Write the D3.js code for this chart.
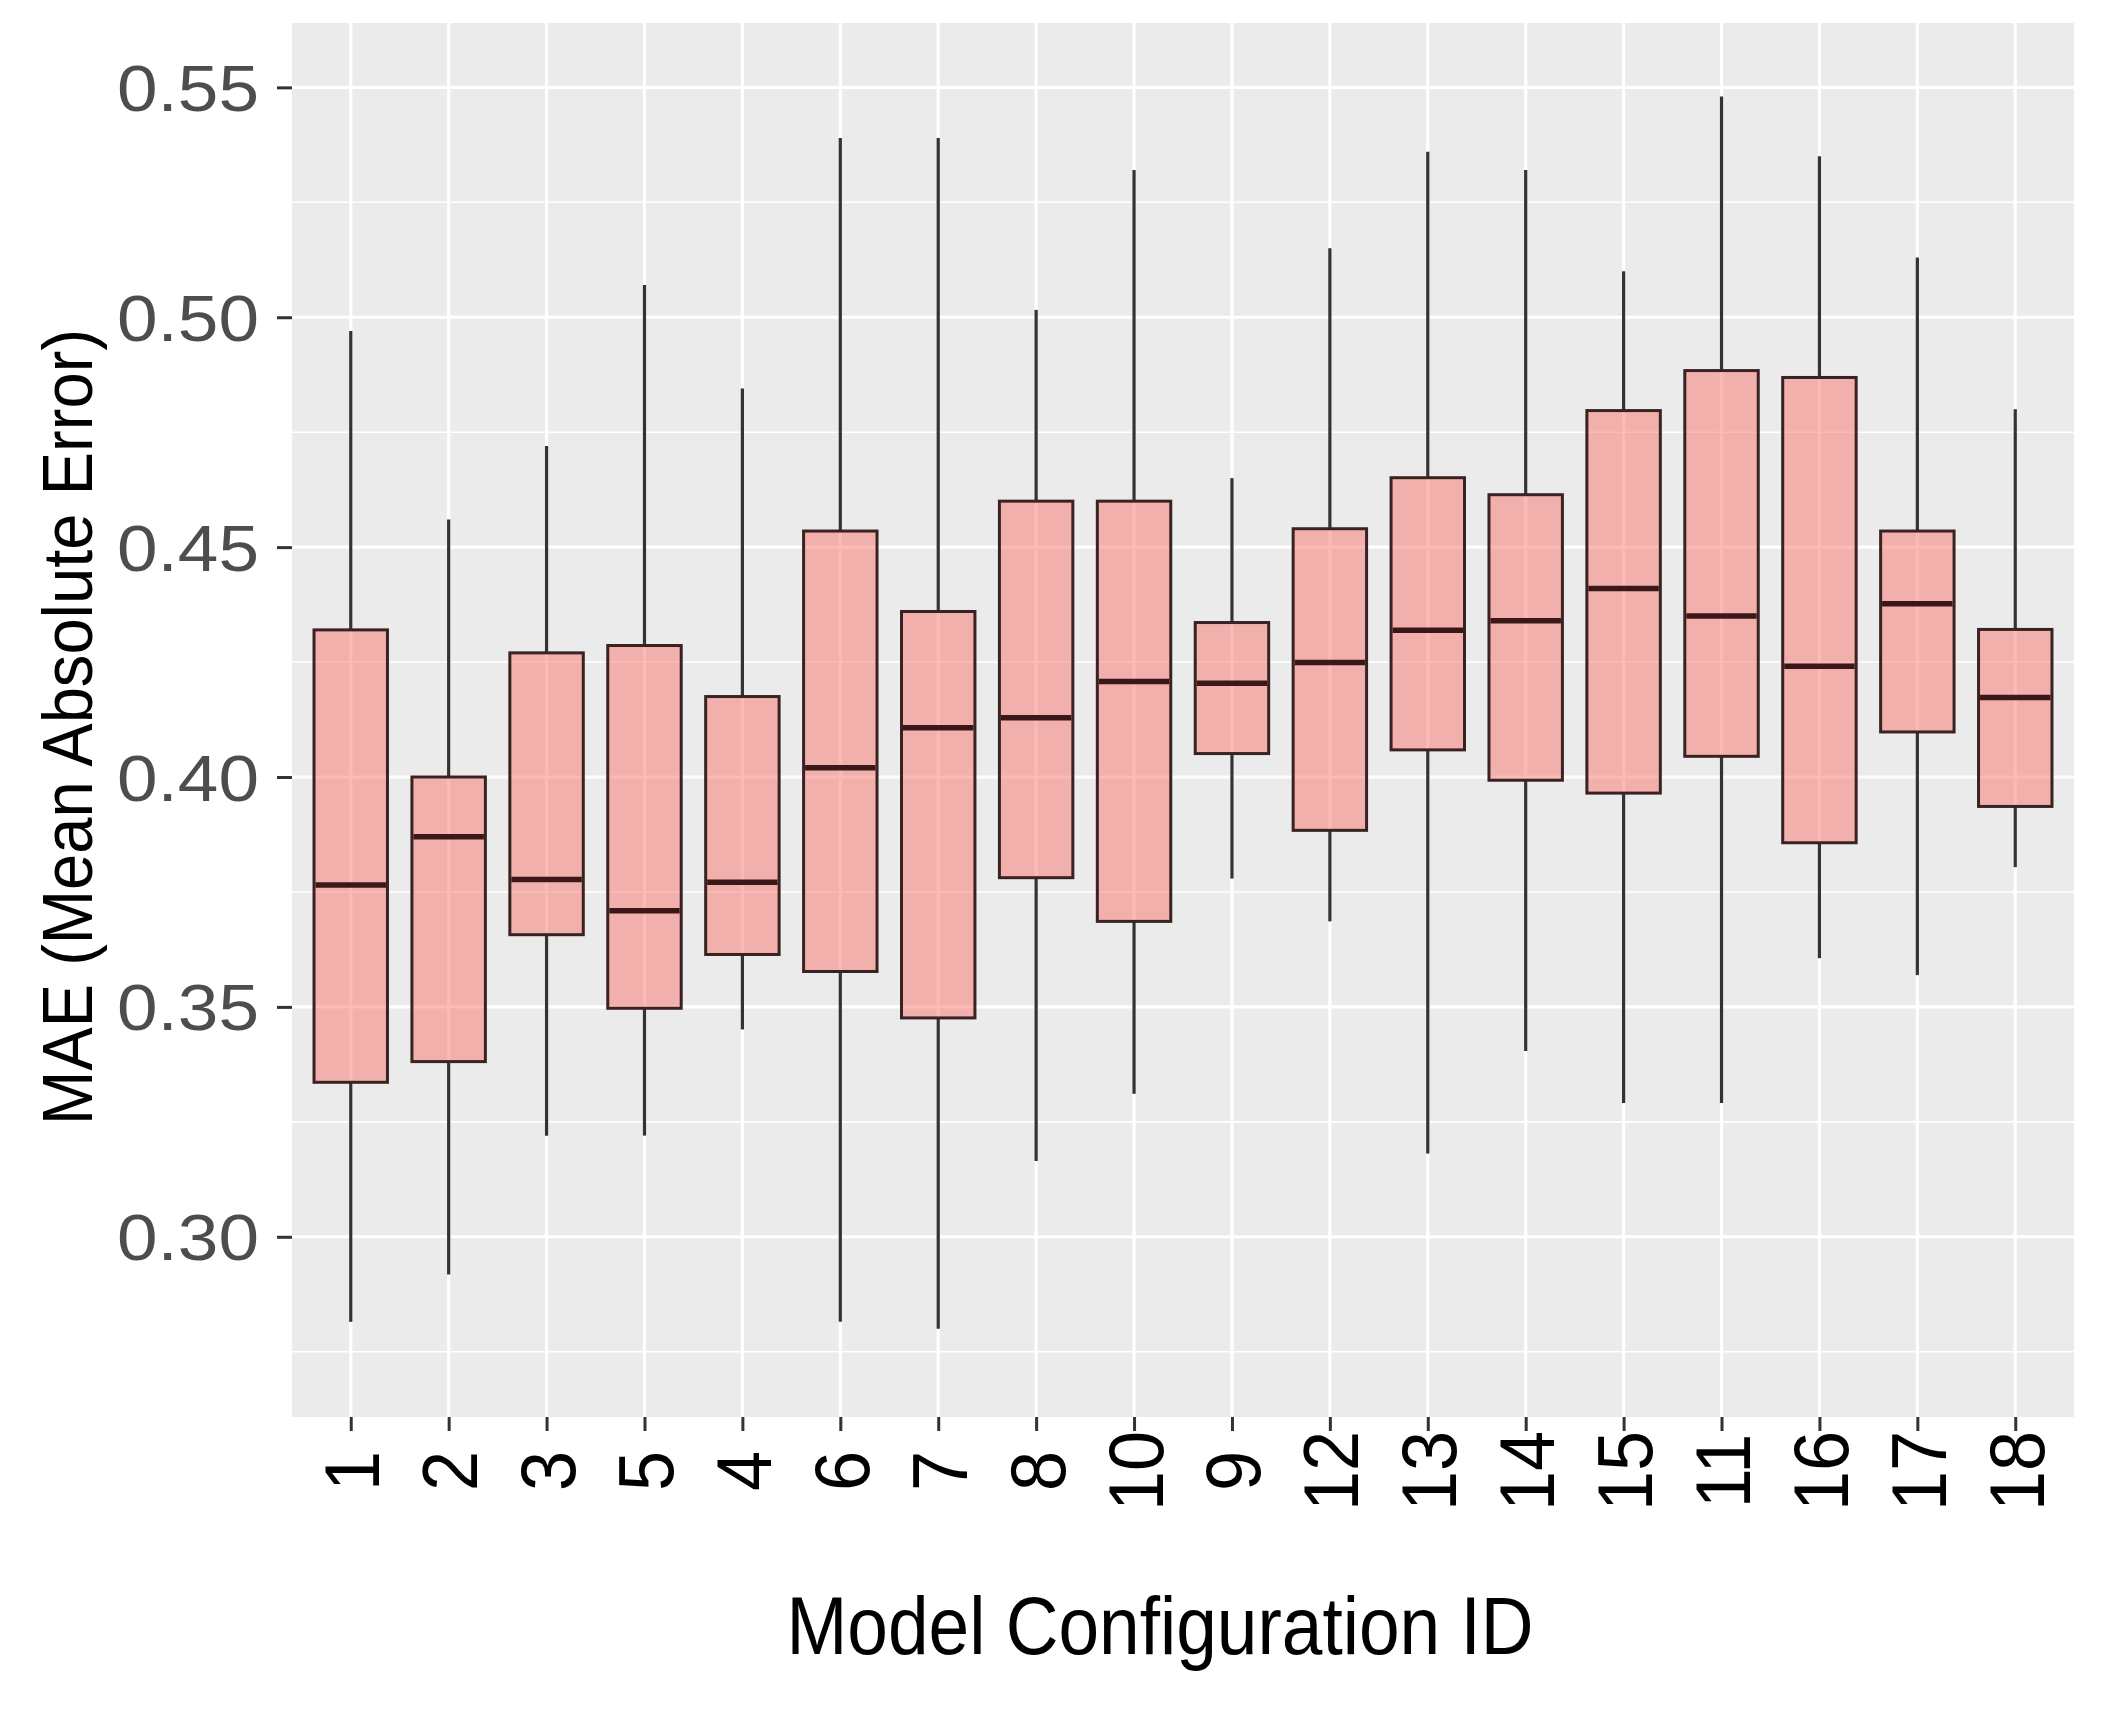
<!DOCTYPE html>
<html>
<head>
<meta charset="utf-8">
<script src="https://cdn.jsdelivr.net/npm/d3@7"></script>
<style>
  html, body { margin: 0; padding: 0; background: #ffffff; }
  svg { display: block; }
</style>
</head>
<body>
<div id="chart"></div>
<script>
// ---- Data ----
const categories  = ["1","2","3","5","4","6","7","8","10","9","12","13","14","15","11","16","17","18"];
const whiskerHigh = [0.497,0.456,0.472,0.507,0.4845,0.539,0.539,0.5016,0.532,0.465,0.515,0.536,0.532,0.510,0.548,0.535,0.513,0.480];
const q3          = [0.432,0.400,0.427,0.4286,0.4175,0.4535,0.436,0.460,0.460,0.4336,0.454,0.4651,0.4614,0.4797,0.4884,0.4869,0.4535,0.4321];
const median      = [0.3765,0.387,0.3777,0.3709,0.3771,0.402,0.4107,0.4129,0.4208,0.4204,0.4249,0.4319,0.434,0.441,0.435,0.4241,0.4377,0.4173];
const q1          = [0.3336,0.3381,0.3657,0.3497,0.3614,0.3577,0.3476,0.3781,0.3686,0.4051,0.3884,0.4059,0.3993,0.3965,0.4045,0.3857,0.4098,0.3936];
const whiskerLow  = [0.2815,0.2918,0.322,0.322,0.3451,0.2815,0.280,0.3165,0.3311,0.3779,0.3686,0.3181,0.3404,0.3291,0.3291,0.3606,0.3569,0.3804];
const yMajorTicks = [0.30,0.35,0.40,0.45,0.50,0.55];
const yMinorTicks = [0.275,0.325,0.375,0.425,0.475,0.525];
const yTitle = "MAE (Mean Absolute Error)";
const xTitle = "Model Configuration ID";

const data = categories.map((c, i) => ({
  cat: c, lo: whiskerLow[i], q1: q1[i], med: median[i], q3: q3[i], hi: whiskerHigh[i]
}));

// ---- Layout ----
const W = 2125, H = 1723;
const panel = { left: 292, right: 2074, top: 23, bottom: 1417 };

const svg = d3.select("#chart").append("svg")
  .attr("width", W).attr("height", H)
  .style("font-family", "'Liberation Sans', Arial, sans-serif");

svg.append("rect").attr("width", W).attr("height", H).attr("fill", "#ffffff");

const x = d3.scalePoint().domain(categories).range([panel.left, panel.right]).padding(0.6);
const y = d3.scaleLinear().domain([0.2608, 0.5640]).range([panel.bottom, panel.top]);
const step = x.step();
const bw = step * 0.75;

// Panel background
svg.append("rect")
  .attr("x", panel.left).attr("y", panel.top)
  .attr("width", panel.right - panel.left).attr("height", panel.bottom - panel.top)
  .attr("fill", "#EBEBEB");

// Grid
const grid = svg.append("g");
grid.selectAll(".minor").data(yMinorTicks).join("line")
  .attr("x1", panel.left).attr("x2", panel.right)
  .attr("y1", d => y(d)).attr("y2", d => y(d))
  .attr("stroke", "#ffffff").attr("stroke-width", 1.6);
grid.selectAll(".major").data(yMajorTicks).join("line")
  .attr("x1", panel.left).attr("x2", panel.right)
  .attr("y1", d => y(d)).attr("y2", d => y(d))
  .attr("stroke", "#ffffff").attr("stroke-width", 3.2);
grid.selectAll(".vmajor").data(categories).join("line")
  .attr("x1", d => x(d)).attr("x2", d => x(d))
  .attr("y1", panel.top).attr("y2", panel.bottom)
  .attr("stroke", "#ffffff").attr("stroke-width", 3.2);

// Boxplots
const boxes = svg.append("g").selectAll("g").data(data).join("g");
boxes.append("line")
  .attr("x1", d => x(d.cat)).attr("x2", d => x(d.cat))
  .attr("y1", d => y(d.q3)).attr("y2", d => y(d.hi))
  .attr("stroke", "#333333").attr("stroke-width", 3.2);
boxes.append("line")
  .attr("x1", d => x(d.cat)).attr("x2", d => x(d.cat))
  .attr("y1", d => y(d.q1)).attr("y2", d => y(d.lo))
  .attr("stroke", "#333333").attr("stroke-width", 3.2);
boxes.append("rect")
  .attr("x", d => x(d.cat) - bw / 2).attr("width", bw)
  .attr("y", d => y(d.q3)).attr("height", d => y(d.q1) - y(d.q3))
  .attr("fill", "#F8766D").attr("fill-opacity", 0.5)
  .attr("stroke", "#3a2222").attr("stroke-width", 3);
boxes.append("line")
  .attr("x1", d => x(d.cat) - bw / 2 + 1.5).attr("x2", d => x(d.cat) + bw / 2 - 1.5)
  .attr("y1", d => y(d.med)).attr("y2", d => y(d.med))
  .attr("stroke", "#3a1818").attr("stroke-width", 5.5);

// Y axis
const yAxis = svg.append("g")
  .attr("transform", `translate(${panel.left},0)`)
  .call(d3.axisLeft(y).tickValues(yMajorTicks).tickSize(15).tickPadding(18).tickFormat(d3.format(".2f")));
yAxis.select(".domain").remove();
yAxis.selectAll(".tick line").attr("stroke", "#333333").attr("stroke-width", 3);
yAxis.selectAll(".tick text")
  .attr("fill", "#4D4D4D")
  .attr("font-size", 64)
  .attr("font-family", "'Liberation Sans', Arial, sans-serif")
  .attr("dy", "0.36em")
  .attr("textLength", 142)
  .attr("lengthAdjust", "spacingAndGlyphs");

// X axis
const xAxis = svg.append("g")
  .attr("transform", `translate(0,${panel.bottom})`)
  .call(d3.axisBottom(x).tickSize(14));
xAxis.select(".domain").remove();
xAxis.selectAll(".tick line").attr("stroke", "#333333").attr("stroke-width", 3);
xAxis.selectAll(".tick text")
  .attr("fill", "#000000")
  .attr("font-size", 72)
  .attr("font-family", "'Liberation Sans', Arial, sans-serif")
  .attr("x", 0).attr("y", 0)
  .attr("dy", "0.36em")
  .attr("text-anchor", "middle")
  .attr("transform", "translate(0,54) scale(1.08,1) rotate(-90)");

// Axis titles
svg.append("text")
  .attr("transform", "translate(92,727) scale(1.1,1) rotate(-90)")
  .attr("text-anchor", "middle")
  .attr("font-size", 64)
  .attr("fill", "#000000")
  .attr("textLength", 796)
  .attr("lengthAdjust", "spacingAndGlyphs")
  .text(yTitle);

svg.append("text")
  .attr("x", 1160).attr("y", 1654)
  .attr("text-anchor", "middle")
  .attr("font-size", 82)
  .attr("font-family", "'Liberation Sans Narrow', 'Arial Narrow', 'Liberation Sans', Arial, sans-serif")
  .attr("fill", "#000000")
  .attr("textLength", 747)
  .attr("lengthAdjust", "spacingAndGlyphs")
  .text(xTitle);
</script>
</body>
</html>
